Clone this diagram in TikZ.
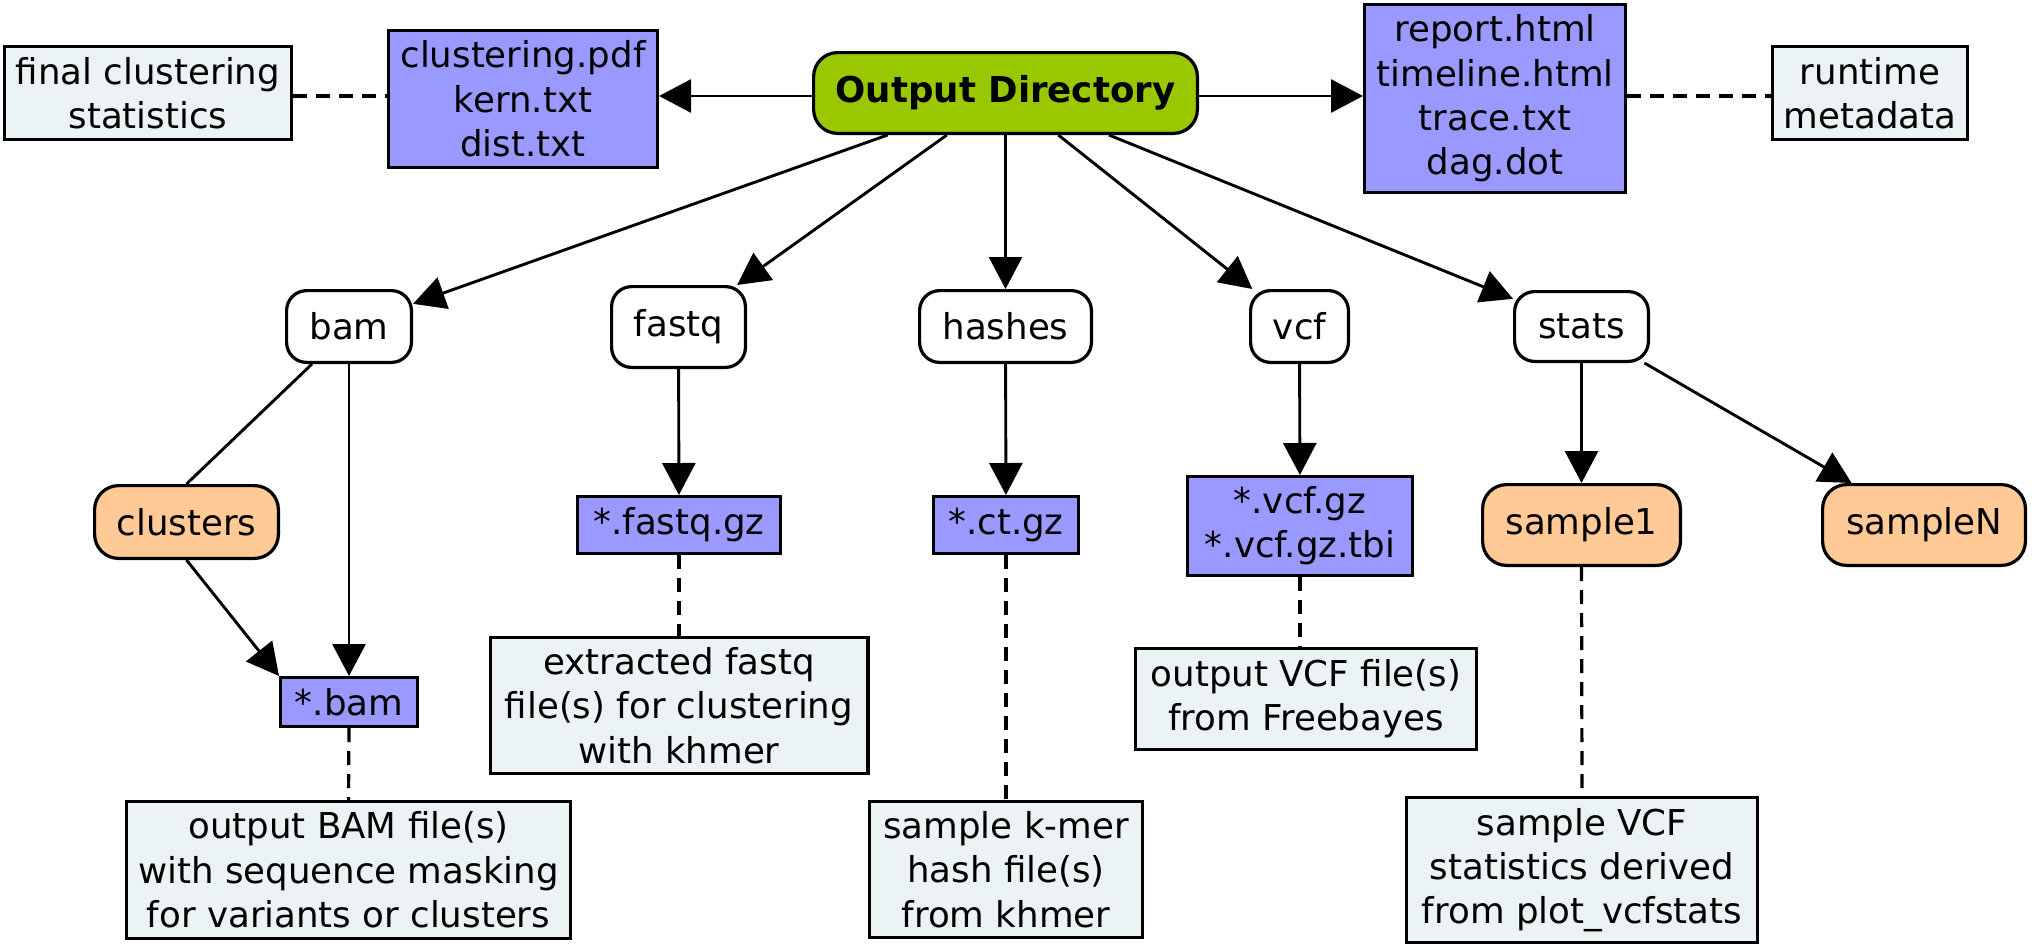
\documentclass[tikz,border=0pt]{standalone}
\usepackage{fontspec}
\setmainfont{DejaVu Sans}
\usetikzlibrary{arrows.meta}
\definecolor{cGreen}{HTML}{99C800}
\definecolor{cFile}{HTML}{9999FF}
\definecolor{cOrange}{HTML}{FFCA96}
\definecolor{cNote}{HTML}{ECF3F4}
\begin{document}
\begin{tikzpicture}[x=0.5pt,y=-0.5pt,
  base/.style={draw=black, line width=1.6pt, inner sep=0pt, align=center,
    font=\fontsize{17.8pt}{22.15pt}\selectfont},
  sz/.style 2 args={minimum width=#1, minimum height=#2},
  dirbox/.style={base, rounded corners=10pt, fill=white},
  filebox/.style={base, fill=cFile},
  notebox/.style={base, fill=cNote},
  samplebox/.style={base, rounded corners=12pt, fill=cOrange},
  rootbox/.style={base, rounded corners=12pt, fill=cGreen, font=\fontsize{17.8pt}{22.15pt}\selectfont\bfseries},
  conn/.style={line width=1.45pt, -{Triangle[length=16pt,width=16.5pt]}},
  plainline/.style={line width=1.45pt},
  dashline/.style={line width=1.6pt, dash pattern=on 7pt off 4.5pt}]
\useasboundingbox (0,0) rectangle (2032,948);

% top row
\node[notebox, sz={143.4pt}{46.4pt}] (fcs) at (148,93) {final clustering\\statistics};
\node[filebox, sz={134.4pt}{68.4pt}] (clus) at (523,99) {clustering.pdf\\kern.txt\\dist.txt};
\node[rootbox, sz={191.9pt}{40.4pt}] (out) at (1005.5,93) {Output Directory};
\node[filebox, sz={130.4pt}{93.9pt}] (rep) at (1495,98.5) {report.html\\timeline.html\\trace.txt\\dag.dot};
\node[notebox, sz={97.4pt}{46.4pt}] (rt) at (1870,93) {runtime\\metadata};

% directories
\node[dirbox, sz={62.4pt}{35.9pt}] (bam) at (349,326.5) {bam};
\node[dirbox, sz={66.9pt}{40.4pt}] (fastq) at (678.5,327) {fastq};
\node[dirbox, sz={85.9pt}{35.9pt}] (hashes) at (1005.5,326.5) {hashes};
\node[dirbox, sz={48.9pt}{35.9pt}] (vcf) at (1299.5,326.5) {vcf};
\node[dirbox, sz={66.9pt}{34.9pt}] (stats) at (1581.5,326.5) {stats};

% third row
\node[samplebox, sz={91.9pt}{36.4pt}] (clusters) at (186.5,522) {clusters};
\node[filebox, sz={101.4pt}{28.4pt}] (fqgz) at (679,525) {*.fastq.gz};
\node[filebox, sz={72.4pt}{28.4pt}] (ctgz) at (1006,525) {*.ct.gz};
\node[filebox, sz={112.4pt}{49.4pt}] (vcfgz) at (1300,526) {*.vcf.gz\\*.vcf.gz.tbi};
\node[samplebox, sz={98.9pt}{40.4pt}] (s1) at (1581.5,525) {sample1};
\node[samplebox, sz={101.4pt}{40.4pt}] (sN) at (1924,525) {sampleN};

% fourth row
\node[filebox, sz={68.4pt}{24.4pt}] (bamf) at (349,702) {*.bam};
\node[notebox, sz={188.9pt}{67.9pt}] (extr) at (679,705.5) {extracted fastq\\file(s) for clustering\\with khmer};
\node[notebox, sz={170.4pt}{50.4pt}] (ovcf) at (1306,699) {output VCF file(s)\\from Freebayes};

% bottom row
\node[notebox, sz={221.9pt}{68.4pt}] (obam) at (348.5,870) {output BAM file(s)\\with sequence masking\\for variants or clusters};
\node[notebox, sz={136.4pt}{67.9pt}] (kmer) at (1006,869.5) {sample k-mer\\hash file(s)\\from khmer};
\node[notebox, sz={175.4pt}{72.4pt}] (svcf) at (1582,870) {sample VCF\\statistics derived\\from plot\_vcfstats};

% top connectors
\draw[dashline] ([yshift=-1.5pt]fcs.east) -- ([yshift=1.5pt]clus.west);
\draw[conn] ([yshift=-1.5pt]out.west) -- ([yshift=1.5pt]clus.east);
\draw[conn] ([yshift=-1.5pt]out.east) -- ([yshift=1.25pt]rep.west);
\draw[dashline] ([yshift=1.25pt]rep.east) -- ([yshift=-1.5pt]rt.west);

% root to directories
\draw[conn] (out) -- (bam);
\draw[conn] (out) -- (fastq);
\draw[conn] (out) -- (hashes);
\draw[conn] (out) -- (vcf);
\draw[conn] (out) -- (stats);

% bam branch
\draw[plainline] ([xshift=-18.5pt]bam.south) -- (clusters.north);
\draw[conn] (clusters.south) -- (bamf.north west);
\draw[conn] (bam) -- (bamf);
\draw[dashline] (bamf.south) -- (obam.north);

% fastq branch
\draw[conn] (fastq) -- (fqgz);
\draw[dashline] (fqgz.south) -- (extr.north);

% hashes branch
\draw[conn] (hashes) -- (ctgz);
\draw[dashline] (ctgz.south) -- (kmer.north);

% vcf branch
\draw[conn] (vcf) -- (vcfgz);
\draw[dashline] (vcfgz.south) -- (vcfgz.south |- ovcf.north);

% stats branch
\draw[conn] (stats) -- (s1);
\draw[conn] (stats) -- (sN);
\draw[dashline] (s1.south) -- (svcf.north);
\end{tikzpicture}
\end{document}
